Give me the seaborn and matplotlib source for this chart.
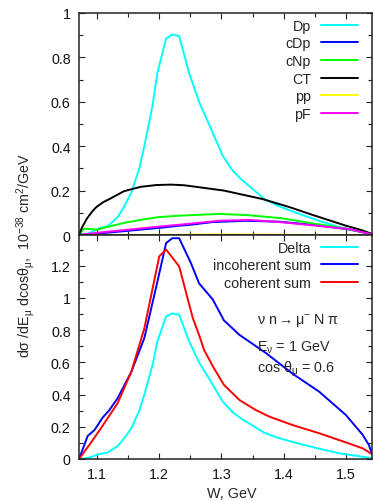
import numpy as np
import pandas as pd
import matplotlib
matplotlib.use("Agg")
import matplotlib.pyplot as plt
import seaborn as sns
from matplotlib.ticker import MultipleLocator, FuncFormatter
from matplotlib.lines import Line2D

# ---------------- data ----------------
W_dp = [1.071, 1.085, 1.096, 1.103, 1.117, 1.133, 1.143, 1.155, 1.168, 1.176, 1.189,
        1.197, 1.211, 1.221, 1.232, 1.248, 1.264, 1.283, 1.302, 1.318, 1.334, 1.347,
        1.369, 1.392, 1.42, 1.457, 1.49, 1.52, 1.542]
V_dp = [0.0, 0.006, 0.02, 0.03, 0.04, 0.08, 0.125, 0.19, 0.30, 0.40, 0.58,
        0.73, 0.885, 0.903, 0.896, 0.73, 0.60, 0.48, 0.357, 0.29, 0.245, 0.215,
        0.162, 0.13, 0.10, 0.064, 0.035, 0.018, 0.005]

W_cdp = [1.071, 1.1, 1.15, 1.2, 1.232, 1.25, 1.285, 1.339, 1.393, 1.45, 1.505, 1.542]
V_cdp = [0.0, 0.006, 0.019, 0.032, 0.042, 0.046, 0.058, 0.064, 0.06, 0.045, 0.025, 0.003]

W_cnp = [1.071, 1.079, 1.086, 1.1, 1.115, 1.144, 1.17, 1.197, 1.232, 1.264, 1.295,
         1.34, 1.395, 1.45, 1.5, 1.542]
V_cnp = [0.0, 0.028, 0.028, 0.024, 0.035, 0.055, 0.068, 0.08, 0.087, 0.091, 0.095,
         0.09, 0.076, 0.051, 0.029, 0.004]

W_ct = [1.071, 1.076, 1.084, 1.092, 1.099, 1.11, 1.12, 1.143, 1.17, 1.195, 1.219,
        1.24, 1.262, 1.304, 1.366, 1.41, 1.447, 1.5, 1.525, 1.542]
V_ct = [0.0, 0.035, 0.075, 0.105, 0.126, 0.148, 0.162, 0.197, 0.217, 0.225, 0.227,
        0.224, 0.216, 0.2, 0.162, 0.125, 0.09, 0.042, 0.022, 0.005]

W_pp = [1.071, 1.2, 1.3, 1.4, 1.542]
V_pp = [0.0, 0.001, 0.002, 0.001, 0.0]

W_pf = [1.071, 1.1, 1.15, 1.2, 1.25, 1.296, 1.345, 1.398, 1.452, 1.505, 1.542]
V_pf = [0.0, 0.01, 0.024, 0.038, 0.051, 0.064, 0.068, 0.057, 0.042, 0.027, 0.003]

W_inc = [1.071, 1.085, 1.096, 1.109, 1.12, 1.133, 1.155, 1.176, 1.197, 1.211, 1.221,
         1.232, 1.251, 1.264, 1.286, 1.304, 1.329, 1.372, 1.414, 1.457, 1.5, 1.527,
         1.537, 1.542]
V_inc = [0.0, 0.143, 0.18, 0.257, 0.304, 0.377, 0.54, 0.75, 1.10, 1.34, 1.37,
         1.37, 1.215, 1.09, 0.99, 0.86, 0.77, 0.656, 0.53, 0.418, 0.273, 0.15,
         0.087, 0.03]

W_coh = [1.071, 1.09, 1.107, 1.133, 1.155, 1.176, 1.2, 1.211, 1.232, 1.254, 1.264,
         1.272, 1.288, 1.304, 1.329, 1.355, 1.377, 1.414, 1.457, 1.5, 1.527, 1.542]
V_coh = [0.0, 0.1, 0.195, 0.346, 0.54, 0.81, 1.257, 1.30, 1.195, 0.874, 0.77,
         0.677, 0.563, 0.46, 0.366, 0.304, 0.263, 0.211, 0.16, 0.103, 0.066, 0.03]

top_labels = ["Dp", "cDp", "cNp", "CT", "pp", "pF"]
bot_labels = ["Delta", "incoherent sum", "coherent sum"]
top_colors = ["#00ffff", "#0000ff", "#00ff00", "#000000", "#ffff00", "#ff00ff"]
bot_colors = ["#00ffff", "#0000ff", "#ff0000"]

# ---------------- style ----------------
sns.set_theme(style="ticks")
plt.rcParams.update({
    "xtick.direction": "in", "ytick.direction": "in",
    "xtick.top": True, "ytick.right": True,
    "xtick.major.size": 4, "ytick.major.size": 4,
    "xtick.minor.size": 3, "ytick.minor.size": 3,
    "xtick.major.width": 0.8, "ytick.major.width": 0.8,
    "xtick.minor.width": 0.8, "ytick.minor.width": 0.8,
    "axes.linewidth": 1.1, "axes.edgecolor": "#222222",
    "xtick.color": "#222222", "ytick.color": "#222222",
    "xtick.labelcolor": "#111111", "ytick.labelcolor": "#111111",
    "xtick.major.pad": 6, "ytick.major.pad": 6,
    "font.size": 10, "xtick.labelsize": 10.3, "ytick.labelsize": 10.3,
    "mathtext.fontset": "custom",
    "mathtext.rm": "Liberation Sans",
    "mathtext.it": "Liberation Sans",
    "mathtext.bf": "Liberation Sans:bold",
})
plt.rcParams["font.family"] = ["Liberation Sans", "DejaVu Sans"]

W, H = 374, 502
fig = plt.figure(figsize=(W / 100, H / 100), dpi=100)
L, R = 79, 372
ax1 = fig.add_axes([L / W, 1 - 236 / H, (R - L) / W, (236 - 14) / H])
ax2 = fig.add_axes([L / W, 1 - 460 / H, (R - L) / W, (460 - 236) / H])

lw = 1.4
top_series = [(W_dp, V_dp), (W_cdp, V_cdp), (W_cnp, V_cnp), (W_ct, V_ct), (W_pp, V_pp), (W_pf, V_pf)]
for (wx, vy), lab, col in zip(top_series, top_labels, top_colors):
    df = pd.DataFrame({"W": wx, "v": vy})
    sns.lineplot(data=df, x="W", y="v", ax=ax1, color=col, lw=lw, sort=False,
                 estimator=None, legend=False)

bot_series = [(W_dp, V_dp), (W_inc, V_inc), (W_coh, V_coh)]
for (wx, vy), lab, col in zip(bot_series, bot_labels, bot_colors):
    df = pd.DataFrame({"W": wx, "v": vy})
    sns.lineplot(data=df, x="W", y="v", ax=ax2, color=col, lw=lw, sort=False,
                 estimator=None, legend=False)

fmt = FuncFormatter(lambda v, p: "%g" % round(v, 6))
for ax in (ax1, ax2):
    ax.set_xlim(1.071, 1.542)
    ax.xaxis.set_major_locator(MultipleLocator(0.1))
    ax.xaxis.set_minor_locator(MultipleLocator(0.05))
    ax.yaxis.set_major_locator(MultipleLocator(0.2))
    ax.yaxis.set_minor_locator(MultipleLocator(0.1))
    ax.yaxis.set_major_formatter(fmt)
    ax.xaxis.set_major_formatter(fmt)
    ax.tick_params(which="both", direction="in", top=True, right=True)
    ax.set_xlabel("")
    ax.set_ylabel("")

ax1.set_ylim(0, 1.0)
ax1.tick_params(axis="x", labelbottom=False)
ax2.set_ylim(0, 1.39)

def make_legend(ax, labels, colors, y):
    handles = [Line2D([], [], color=c, lw=lw) for c in colors]
    leg = ax.legend(handles, labels, loc="upper right", bbox_to_anchor=(0.952, y),
                    markerfirst=False, frameon=False, handlelength=2.55,
                    handletextpad=0.72, labelspacing=0.26, borderaxespad=0,
                    borderpad=0, fontsize=10.3)
    return leg

make_legend(ax1, top_labels, top_colors, 0.975)
make_legend(ax2, bot_labels, bot_colors, 0.975)

fig.text(257 / W, 1 - 321 / H, r"ν n$\rightarrow$μ$^{-}$ N π",
         ha="left", va="center", fontsize=10.3)
fig.text(257 / W, 1 - 348 / H, r"E$_{\nu}$ = 1 GeV", ha="left", va="center", fontsize=10.3)
fig.text(257 / W, 1 - 369 / H, r"cos $\theta_{\mu}$ = 0.6", ha="left", va="center", fontsize=10.3)

fig.text(26 / W, 1 - 255 / H,
         r"d$\sigma$ /dE$_{\mu}$ dcos$\theta_{\mu}$,  10$^{-38}$ cm$^{2}$/GeV",
         rotation=90, ha="center", va="center", fontsize=10.3)
fig.text(232 / W, 1 - 494 / H, "W, GeV", ha="center", va="center", fontsize=10.3)

fig.savefig("out.png", dpi=100)
